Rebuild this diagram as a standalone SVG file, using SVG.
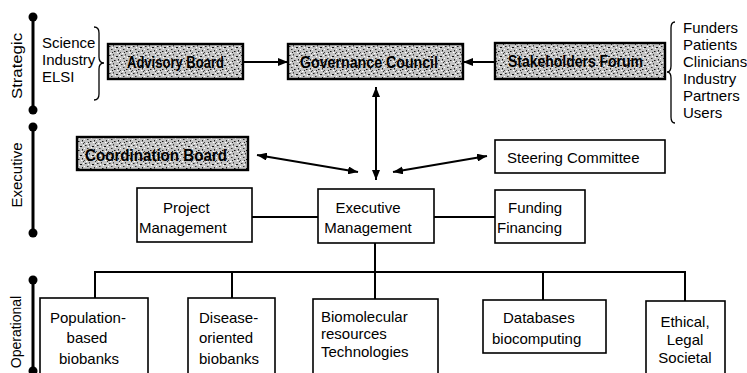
<svg xmlns="http://www.w3.org/2000/svg" width="747" height="373" viewBox="0 0 747 373">
<style>
text{font-family:"Liberation Sans",Arial,sans-serif;fill:#000}
.t{font-size:15px}
.b{font-size:16px;font-weight:bold}
.box{fill:#fff;stroke:#000;stroke-width:1.6}
.sbox{fill:url(#noise);stroke:#000;stroke-width:2.4}
.ln{fill:none;stroke:#000;stroke-width:2}
.bar{stroke:#000;stroke-width:3}
.br{fill:none;stroke:#000;stroke-width:1.3}
</style>
<defs>
<pattern id="noise" width="12" height="9" patternUnits="userSpaceOnUse">
<rect width="12" height="9" fill="#c4c4c4"/>
<rect x="1" y="1" width="1.5" height="1" fill="#222"/>
<rect x="5" y="0" width="1" height="1.5" fill="#444"/>
<rect x="8" y="2" width="2" height="1" fill="#111"/>
<rect x="3" y="4" width="1.5" height="1" fill="#333"/>
<rect x="10" y="5" width="1" height="1.5" fill="#222"/>
<rect x="6" y="6" width="1.5" height="1" fill="#111"/>
<rect x="0" y="7" width="1" height="1" fill="#444"/>
<rect x="11" y="8" width="1" height="1" fill="#333"/>
<rect x="4" y="7" width="1" height="1" fill="#222"/>
<rect x="2" y="8" width="1.5" height="1" fill="#fff"/>
<rect x="7" y="3" width="1" height="1" fill="#fff"/>
<rect x="11" y="1" width="1" height="1" fill="#fff"/>
<rect x="4" y="2" width="1" height="1" fill="#fff"/>
<rect x="9" y="7" width="1.5" height="1" fill="#fff"/>
<rect x="0" y="4" width="1" height="1" fill="#fff"/>
</pattern>
<marker id="ah" viewBox="0 0 10 8" refX="10" refY="4" markerWidth="10" markerHeight="8" markerUnits="userSpaceOnUse" orient="auto-start-reverse">
<path d="M0,0 L10,4 L0,8 z" fill="#000"/>
</marker>
</defs>

<g id="levels">
<line class="bar" x1="33" y1="17" x2="33" y2="110"/>
<circle cx="33" cy="17" r="4.5"/><circle cx="33" cy="110" r="4.5"/>
<line class="bar" x1="33" y1="127" x2="33" y2="233"/>
<circle cx="33" cy="127" r="4.5"/><circle cx="33" cy="233" r="4.5"/>
<line class="bar" x1="33" y1="280" x2="33" y2="371"/>
<circle cx="33" cy="280" r="4.5"/><circle cx="33" cy="371" r="4.5"/>
<text class="t" transform="translate(22,66) rotate(-90)" text-anchor="middle" textLength="66" lengthAdjust="spacingAndGlyphs">Strategic</text>
<text class="t" transform="translate(22,175) rotate(-90)" text-anchor="middle">Executive</text>
<text class="t" transform="translate(21,332) rotate(-90)" text-anchor="middle" style="font-size:14px">Operational</text>
</g>

<g id="strategic-members">
<text class="t" x="42" y="48">Science</text>
<text class="t" x="42" y="65">Industry</text>
<text class="t" x="42" y="82">ELSI</text>
<path class="br" d="M94,27 Q99,27 99,33 L99,57 Q99,63 104,63 Q99,63 99,69 L99,94 Q99,100 94,100"/>
</g>

<g id="advisory-board">
<rect class="sbox" x="108" y="44" width="135" height="35"/>
<text class="b" x="175.5" y="68" text-anchor="middle" textLength="97" lengthAdjust="spacingAndGlyphs">Advisory Board</text>
</g>

<g id="governance-council">
<rect class="sbox" x="288" y="44" width="175" height="35"/>
<text class="b" x="369" y="68" text-anchor="middle" textLength="138" lengthAdjust="spacingAndGlyphs">Governance Council</text>
</g>

<g id="stakeholders-forum">
<rect class="sbox" x="495" y="43" width="170" height="36"/>
<text class="b" x="575.5" y="67" text-anchor="middle" textLength="135" lengthAdjust="spacingAndGlyphs">Stakeholders Forum</text>
</g>

<g id="stakeholder-members">
<path class="br" d="M675,22 Q671,22 671,28 L671,66 Q671,72 667,72 Q671,72 671,78 L671,117 Q671,123 675,123"/>
<text class="t" x="683" y="33">Funders</text>
<text class="t" x="683" y="50">Patients</text>
<text class="t" x="683" y="67">Clinicians</text>
<text class="t" x="683" y="84">Industry</text>
<text class="t" x="683" y="101">Partners</text>
<text class="t" x="683" y="118">Users</text>
</g>

<g id="coordination-board">
<rect class="sbox" x="77" y="137" width="171" height="33"/>
<text class="b" x="156" y="161" text-anchor="middle" textLength="142" lengthAdjust="spacingAndGlyphs">Coordination Board</text>
</g>

<g id="steering-committee">
<rect class="box" x="495" y="140" width="170" height="33"/>
<text class="t" x="507" y="163">Steering Committee</text>
</g>

<g id="project-management">
<rect class="box" x="137" y="188" width="115" height="54"/>
<text class="t" x="163" y="213">Project</text>
<text class="t" x="139" y="233">Management</text>
</g>

<g id="executive-management">
<rect class="box" x="318" y="189" width="116" height="54"/>
<text class="t" x="368" y="213" text-anchor="middle">Executive</text>
<text class="t" x="368" y="233" text-anchor="middle">Management</text>
</g>

<g id="funding-financing">
<rect class="box" x="495" y="190" width="90" height="53"/>
<text class="t" x="508" y="213">Funding</text>
<text class="t" x="497" y="233">Financing</text>
</g>

<g id="population-biobanks">
<rect class="box" x="40" y="298" width="108" height="80"/>
<text class="t" x="50" y="323">Population-</text>
<text class="t" x="87" y="343" text-anchor="middle">based</text>
<text class="t" x="89" y="364" text-anchor="middle">biobanks</text>
</g>

<g id="disease-biobanks">
<rect class="box" x="188" y="298" width="87" height="80"/>
<text class="t" x="199" y="323">Disease-</text>
<text class="t" x="199" y="343">oriented</text>
<text class="t" x="199" y="364">biobanks</text>
</g>

<g id="biomolecular">
<rect class="box" x="313" y="299" width="125" height="80"/>
<text class="t" x="321" y="322">Biomolecular</text>
<text class="t" x="321" y="339">resources</text>
<text class="t" x="321" y="357">Technologies</text>
</g>

<g id="databases">
<rect class="box" x="483" y="300" width="123" height="53"/>
<text class="t" x="503" y="323">Databases</text>
<text class="t" x="492" y="344">biocomputing</text>
</g>

<g id="ethical">
<rect class="box" x="646" y="301" width="79" height="80"/>
<text class="t" x="685" y="327" text-anchor="middle">Ethical,</text>
<text class="t" x="685" y="345" text-anchor="middle">Legal</text>
<text class="t" x="685" y="363" text-anchor="middle">Societal</text>
</g>

<g id="connectors">
<line class="ln" x1="243" y1="62" x2="288" y2="62" marker-end="url(#ah)"/>
<line class="ln" x1="495" y1="62" x2="463" y2="62" marker-end="url(#ah)"/>
<line class="ln" x1="376" y1="87" x2="376" y2="180" marker-start="url(#ah)" marker-end="url(#ah)"/>
<line class="ln" x1="257" y1="155" x2="358" y2="172" marker-start="url(#ah)" marker-end="url(#ah)"/>
<line class="ln" x1="393" y1="172" x2="487" y2="156" marker-start="url(#ah)" marker-end="url(#ah)"/>
<line class="ln" x1="252" y1="217" x2="318" y2="217"/>
<line class="ln" x1="434" y1="217" x2="495" y2="217"/>
<line class="ln" x1="375" y1="243" x2="375" y2="299"/>
<path class="ln" d="M95,298 V272 H685 V301"/>
<line class="ln" x1="232" y1="272" x2="232" y2="298"/>
<line class="ln" x1="543" y1="272" x2="543" y2="300"/>
</g>
</svg>
